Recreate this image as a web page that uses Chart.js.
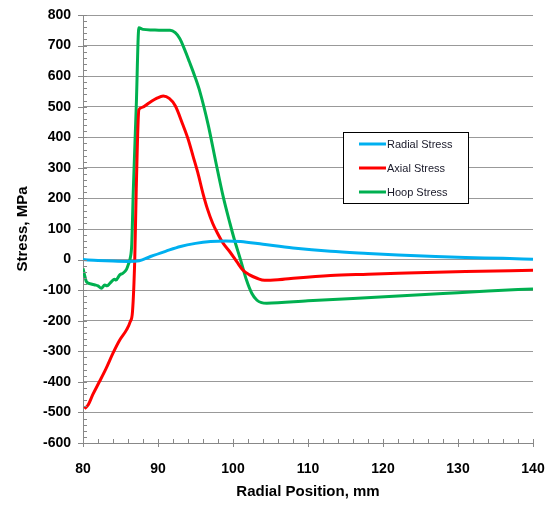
<!DOCTYPE html>
<html>
<head>
<meta charset="utf-8">
<script src="https://cdn.jsdelivr.net/npm/chart.js@4.4.0/dist/chart.umd.min.js"></script>
<style>
html,body{margin:0;padding:0;background:#fff;}
#wrap{width:553px;height:505px;position:relative;}
</style>
</head>
<body>
<div id="wrap"><canvas id="c" width="553" height="505"></canvas></div>
<script>
// ---- data ----
const radialX = [80, 82, 84, 86, 87.5, 89, 91, 93, 95, 97, 99, 101, 104, 108, 113, 118, 122, 127, 131, 136, 140];
const radialY = [0, -3, -5, -6, -4, 10, 27, 43, 53, 59, 61, 59, 50, 38, 27, 20, 15, 10, 7, 4, 1];

const axialX = [80.2, 80.7, 81.3, 82.2, 83.1, 84, 84.9, 85.8, 86.3, 86.6, 86.9, 87.1, 87.45, 87.8, 88.9, 89.8, 90.7, 91.5, 92.3, 93.3, 94, 94.7, 95.3, 96, 96.6, 97.3, 98, 98.7, 99.5, 100.5, 101.3, 102.2, 103.2, 104.2, 106, 108.5, 113, 118, 122, 131, 140];
const axialY = [-488, -475, -442, -399, -355, -306, -263, -230, -203, -170, 0, 230, 490, 497, 514, 527, 535, 527, 503, 442, 395, 336, 285, 216, 165, 118, 83, 53, 28, -7, -34, -50, -61, -68, -66, -60, -52, -48, -45, -39, -35];

const hoopX = [80, 80.2, 80.45, 81.1, 81.6, 82, 82.45, 82.9, 83.2, 83.5, 83.8, 84.2, 84.4, 84.9, 85.3, 85.8, 86.1, 86.3, 86.5, 86.7, 87.1, 87.45, 88, 89.3, 90.5, 91.6, 92.3, 92.9, 93.5, 94.2, 94.9, 95.6, 96.7, 97.7, 98.7, 99.6, 100.2, 101, 101.8, 102.5, 103.2, 103.8, 104.5, 110, 116, 122, 128, 134, 140];
const hoopY = [-29, -50, -72, -80, -83, -86, -94, -83, -86, -80, -72, -64, -67, -50, -45, -32, -12, 5, 50, 220, 500, 758, 753, 751, 750, 750, 742, 723, 690, 646, 600, 548, 440, 320, 205, 118, 64, 0, -67, -110, -133, -141, -143, -135, -127, -119, -111, -103, -96];

const seriesNames = ["Radial Stress", "Axial Stress", "Hoop Stress"];
const xTicks = [80, 90, 100, 110, 120, 130, 140];
const yTicks = [-600, -500, -400, -300, -200, -100, 0, 100, 200, 300, 400, 500, 600, 700, 800];

const pts = (xs, ys) => xs.map((x, i) => ({x: x, y: ys[i]}));

const tickPlugin = {
  id: 'ticksAndLegend',
  afterDraw(chart) {
    const ctx = chart.ctx;
    const xs = chart.scales.x, ys = chart.scales.y;
    const L = chart.chartArea.left, B = chart.chartArea.bottom;
    ctx.save();
    ctx.strokeStyle = '#888';
    ctx.lineWidth = 1;
    ctx.beginPath();
    for (let v = yTicks[0]; v <= yTicks[yTicks.length - 1]; v += 20) {
      const p = Math.round(ys.getPixelForValue(v)) + 0.5;
      const major = yTicks.includes(v);
      ctx.moveTo(major ? L - 5 : L, p);
      ctx.lineTo(L + 4, p);
    }
    for (let v = xTicks[0]; v <= xTicks[xTicks.length - 1]; v += 2) {
      const p = Math.round(xs.getPixelForValue(v)) + 0.5;
      const major = xTicks.includes(v);
      ctx.moveTo(p, major ? B + 4 : B);
      ctx.lineTo(p, B - 4);
    }
    ctx.stroke();

    // legend box
    const bx = 343.5, by = 132.5, bw = 125, bh = 71;
    ctx.fillStyle = '#fff';
    ctx.fillRect(bx, by, bw, bh);
    ctx.strokeStyle = '#000';
    ctx.strokeRect(bx, by, bw, bh);
    const rows = [144, 168, 192];
    ctx.font = '11px "Liberation Sans", Arial, sans-serif';
    ctx.textBaseline = 'middle';
    ctx.textAlign = 'left';
    chart.data.datasets.forEach((ds, i) => {
      ctx.strokeStyle = ds.borderColor;
      ctx.lineWidth = 3;
      ctx.beginPath();
      ctx.moveTo(359, rows[i]);
      ctx.lineTo(386, rows[i]);
      ctx.stroke();
      ctx.fillStyle = '#1a1a2a';
      ctx.fillText(ds.label, 387, rows[i] + 0.5);
    });
    ctx.restore();
  }
};

const tickFont = {family: '"Liberation Sans", Arial, sans-serif', size: 14, weight: 'bold'};
const titleFont = {family: '"Liberation Sans", Arial, sans-serif', size: 15, weight: 'bold'};

new Chart(document.getElementById('c'), {
  type: 'line',
  data: {
    datasets: [
      {label: seriesNames[0], data: pts(radialX, radialY), borderColor: '#00b0f0'},
      {label: seriesNames[1], data: pts(axialX, axialY), borderColor: '#ff0000'},
      {label: seriesNames[2], data: pts(hoopX, hoopY), borderColor: '#00b050'}
    ]
  },
  options: {
    responsive: false,
    animation: false,
    devicePixelRatio: 1,
    layout: {padding: {left: 0, right: 20, top: 15, bottom: 0}},
    elements: {
      point: {radius: 0},
      line: {borderWidth: 3, cubicInterpolationMode: 'monotone', fill: false}
    },
    plugins: {legend: {display: false}, tooltip: {enabled: false}},
    scales: {
      x: {
        type: 'linear', min: 80, max: 140,
        afterBuildTicks: (s) => { s.ticks = xTicks.map(v => ({value: v})); },
        afterFit: (s) => { s.height = 62; s.paddingLeft = 0; s.paddingRight = 0; },
        grid: {display: false, drawTicks: false},
        border: {display: true, color: '#888', width: 1},
        ticks: {padding: 18, color: '#000', font: tickFont, maxRotation: 0},
        title: {display: true, text: 'Radial Position, mm', color: '#000', font: titleFont, padding: {top: 0, bottom: 4}}
      },
      y: {
        type: 'linear', min: -600, max: 800,
        afterBuildTicks: (s) => { s.ticks = yTicks.map(v => ({value: v})); },
        afterFit: (s) => { s.width = 83; s.paddingTop = 0; s.paddingBottom = 0; },
        grid: {color: '#999', lineWidth: 1, drawTicks: false},
        border: {display: true, color: '#888', width: 1},
        ticks: {padding: 12, color: '#000', font: tickFont},
        title: {display: true, text: 'Stress, MPa', color: '#000', font: titleFont, padding: {top: 14, bottom: 0}}
      }
    }
  },
  plugins: [tickPlugin]
});
</script>
</body>
</html>
